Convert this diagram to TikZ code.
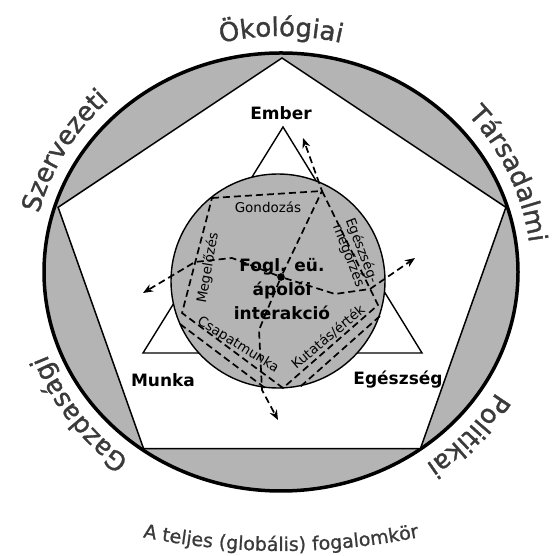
\documentclass[tikz,border=0pt]{standalone}
\usepackage{fontspec}
\setmainfont{DejaVu Sans}
\newfontfamily\ringfont[LetterSpace=6,FakeBold=1.2]{DejaVu Sans}
\newfontfamily\capfont[FakeBold=1]{DejaVu Sans}
\usetikzlibrary{decorations.text,arrows.meta}

\definecolor{ringgray}{RGB}{180,180,180}
\definecolor{labelgray}{RGB}{58,58,58}

\tikzset{
	corner/.style={font=\bfseries\fontsize{17}{19}\selectfont},
	side/.style={font=\fontsize{13.5}{14}\selectfont, align=center, inner sep=0pt},
	frame/.style={dash pattern=on 7pt off 4pt, line width=1.7pt},
	spoke/.style={frame, -{Stealth[length=10pt,width=8pt]}},
	ringlabel/.style={decorate, decoration={text along path, text align=center, text color=labelgray, text={|\ringfont\fontsize{26}{26}\selectfont|#1}}}
}

\begin{document}
\begin{tikzpicture}[x=1pt,y=1pt]
	\useasboundingbox (0,0) rectangle (551,556);

	% outer ring and pentagon
	\filldraw [fill=ringgray, line width=3.5pt] (281,284) ellipse [x radius=237, y radius=219];
	\filldraw [fill=white, line width=1.5pt] (282,498) -- (58.1,348.7) -- (143.6,107.3) -- (420.4,107.3) -- (505.9,348.7) -- cycle;

	% triangle
	\coordinate (top) at (283,429);
	\coordinate (left) at (143,203);
	\coordinate (right) at (422,203);
	\draw [line width=1.4pt] (top) -- (left) -- (right) -- cycle;

	\filldraw [fill=ringgray, line width=1.4pt] (278,275) circle (107);

	% dashed frame
	\coordinate (v1) at (212,358);
	\coordinate (v2) at (322,365);
	\coordinate (v3) at (378,251);
	\coordinate (v4) at (283,168);
	\coordinate (v5) at (182,243);
	\coordinate (j3) at (370,267);
	\coordinate (j5) at (195,294);
	\coordinate (kut1) at (380,240);
	\coordinate (kut2) at (300,169);
	\coordinate (csap1) at (180,232);
	\coordinate (csap2) at (265,168);

	\draw [frame] (v1) -- (v2) -- (v3) -- (v4) -- (v5) -- cycle;
	\draw [frame] (kut1) -- (kut2);
	\draw [frame] (csap1) -- (csap2);

	\node [name=hub, circle, fill, inner sep=2.7pt] at (281,279) {};

	\coordinate (bendR) at (335,262);
	\coordinate (bendB1) at (259,226);
	\coordinate (bendB2) at (262,166);
	\coordinate (bendL) at (232,298);
	\coordinate (tipT) at (303,418);
	\coordinate (tipR) at (415,298);
	\coordinate (tipB) at (278,136);
	\coordinate (tipL) at (143,263);

	\draw [spoke] (hub) -- (v2) -- (tipT);
	\draw [spoke] (hub) -- (bendR) -- (j3) -- (tipR);
	\draw [spoke] (hub) -- (bendB1) -- (bendB2) -- (tipB);
	\draw [spoke] (hub) -- (bendL) -- (j5) -- (tipL);

	\node [name=ember, corner] at (281,443) {Ember};
	\node [name=munka, corner] at (163,176) {Munka};
	\node [name=egeszseg, corner] at (398,176) {Egészség};

	\node [name=core, align=center, font=\bfseries\fontsize{17}{24}\selectfont] at (282,267) {Fogl. eü.\\ápolói\\interakció};

	\node [name=gondozas, side] at (268,349) {Gondozás};
	\node [name=megorzes, side, rotate=-69] at (355,303) {Egészség-\\megőrzés};
	\node [name=kutatas, side, rotate=40] at (328,219) {Kutatás/érték};
	\node [name=csapat, side, rotate=-32] at (238,211) {Csapatmunka};
	\node [name=megelozes, side, rotate=80] at (208,288) {Megelőzés};

	% ring labels
	\path [ringlabel=Ökológiai] ([shift={(281,284)}]130:250 and 236) arc [start angle=130, end angle=50, x radius=250, y radius=236];
	\path [ringlabel=Társadalmi] ([shift={(281,284)}]64:250 and 236) arc [start angle=64, end angle=-16, x radius=250, y radius=236];
	\path [ringlabel=Szervezeti] ([shift={(281,284)}]190:250 and 236) arc [start angle=190, end angle=110, x radius=250, y radius=236];
	\path [ringlabel=Gazdasági] ([shift={(281,284)}]256:250 and 236) arc [start angle=256, end angle=176, x radius=250, y radius=236];
	\path [ringlabel=Politikai] ([shift={(281,284)}]358:250 and 236) arc [start angle=358, end angle=278, x radius=250, y radius=236];

	\path [decorate, decoration={text along path, text align=center, text color=labelgray, text={|\capfont\fontsize{19}{19}\selectfont|A teljes (globális) fogalomkör}}] ([shift={(281,705)}]256:700) arc [start angle=256, end angle=284, radius=700];

\end{tikzpicture}
\end{document}
